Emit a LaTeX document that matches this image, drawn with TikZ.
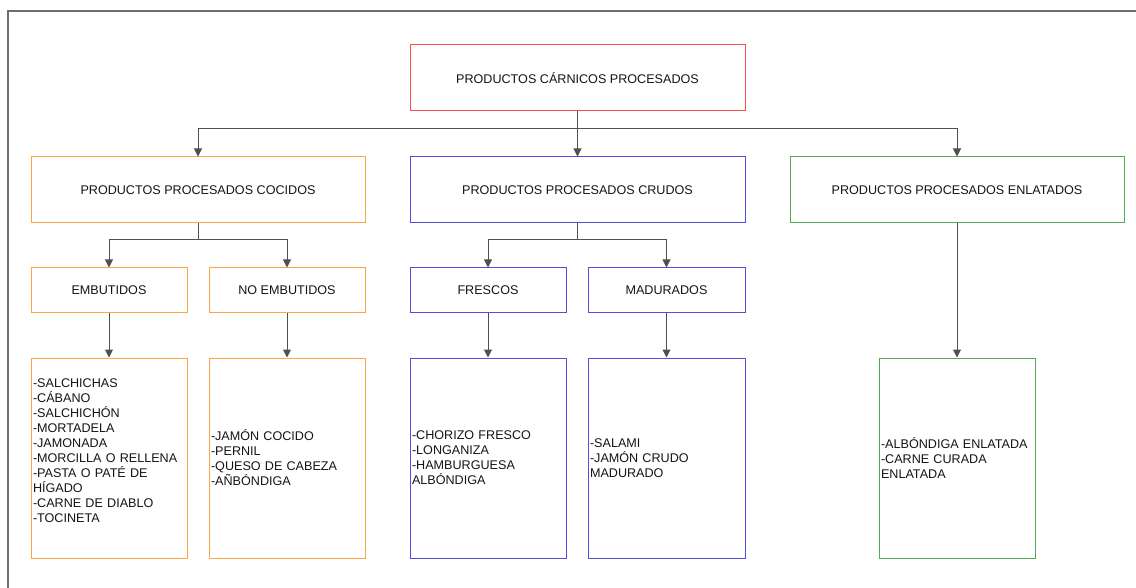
\documentclass[tikz,border=0pt]{standalone}
\usepackage{fontspec}
\setmainfont{Liberation Sans}
\usetikzlibrary{arrows.meta}
\definecolor{cred}{RGB}{245,80,80}
\definecolor{corange}{RGB}{255,165,70}
\definecolor{cblue}{RGB}{80,80,220}
\definecolor{cgreen}{RGB}{85,170,85}
\definecolor{cline}{RGB}{80,80,80}
\definecolor{cframe}{RGB}{110,110,110}
\definecolor{ctext}{RGB}{20,20,20}
\begin{document}
\begin{tikzpicture}[x=1pt,y=-1pt,
  box/.style={draw, line width=1pt, inner sep=0pt, text=ctext,
    font=\fontsize{12.6}{15}\selectfont, align=center},
  head/.style={box, minimum width=334pt, minimum height=66pt},
  sub/.style={box, minimum width=156pt, minimum height=45pt},
  leaf/.style={box, minimum width=156pt, minimum height=200pt,
    text width=152pt, align=left},
  conn/.style={draw=cline, line width=1pt, -{Triangle[length=8pt,width=8pt]}}]
\useasboundingbox (0,0) rectangle (1136,588);
% outer frame (only its top and left edges fall inside the page)
\draw[cframe, line width=2pt] (8,600) -- (8,11) -- (1150,11);

% top level
\node[head, draw=cred, minimum width=335pt] (root) at (577.5,78) {PRODUCTOS CÁRNICOS PROCESADOS};

% processing groups
\node[head, draw=corange] (coc) at (198,190) {PRODUCTOS PROCESADOS COCIDOS};
\node[head, draw=cblue, minimum width=335pt] (cru) at (577.5,190) {PRODUCTOS PROCESADOS CRUDOS};
\node[head, draw=cgreen] (enl) at (957,190) {PRODUCTOS PROCESADOS ENLATADOS};

% subgroups
\node[sub, draw=corange] (emb) at (109,290.5) {EMBUTIDOS};
\node[sub, draw=corange] (noemb) at (287,290.5) {NO EMBUTIDOS};
\node[sub, draw=cblue] (fre) at (488,290.5) {FRESCOS};
\node[sub, draw=cblue, minimum width=157pt] (mad) at (666.5,290.5) {MADURADOS};

% product lists (the first list keeps a blank last line, lifting it a little)
\node[leaf, draw=corange] (lemb) at (109,458) {-SALCHICHAS\\-CÁBANO\\-SALCHICHÓN\\-MORTADELA\\-JAMONADA\\-MORCILLA O RELLENA\\-PASTA O PATÉ DE\\HÍGADO\\-CARNE DE DIABLO\\-TOCINETA\\\mbox{}};
\node[leaf, draw=corange] (lnoemb) at (287,458) {-JAMÓN COCIDO\\-PERNIL\\-QUESO DE CABEZA\\-AÑBÓNDIGA};
\node[leaf, draw=cblue] (lfre) at (488,458) {-CHORIZO FRESCO\\-LONGANIZA\\-HAMBURGUESA\\ALBÓNDIGA};
\node[leaf, draw=cblue, minimum width=157pt, text width=153pt] (lmad) at (666.5,458) {-SALAMI\\-JAMÓN CRUDO\\MADURADO};
\node[leaf, draw=cgreen] (lenl) at (957,458) {-ALBÓNDIGA ENLATADA\\-CARNE CURADA\\ENLATADA};

% connectors
\coordinate (b0) at (577.5,129);
\draw[draw=cline, line width=1pt] (root.south) -- (b0);
\draw[conn] (b0) -| (coc.north);
\draw[conn] (b0) -- (cru.north);
\draw[conn] (b0) -| (enl.north);

\coordinate (b1) at (198,240);
\draw[draw=cline, line width=1pt] (coc.south) -- (b1);
\draw[conn] (b1) -| (emb.north);
\draw[conn] (b1) -| (noemb.north);

\coordinate (b2) at (577.5,240);
\draw[draw=cline, line width=1pt] (cru.south) -- (b2);
\draw[conn] (b2) -| (fre.north);
\draw[conn] (b2) -| (mad.north);

\draw[conn] (emb.south) -- (lemb.north);
\draw[conn] (noemb.south) -- (lnoemb.north);
\draw[conn] (fre.south) -- (lfre.north);
\draw[conn] (mad.south) -- (lmad.north);
\draw[conn] (enl.south) -- (lenl.north);
\end{tikzpicture}
\end{document}
